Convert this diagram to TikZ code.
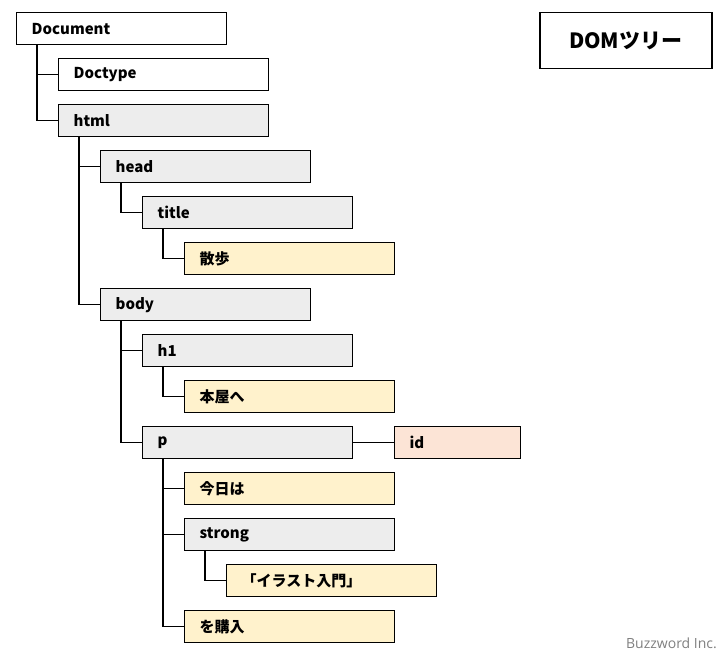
\documentclass[tikz,border=0pt]{standalone}
\usepackage{fontspec}
\setmainfont{Noto Sans CJK JP}
\newfontfamily\credfont{Open Sans}
\definecolor{elgray}{HTML}{EDEDED}
\definecolor{txtyel}{HTML}{FFF2CC}
\definecolor{attrpk}{HTML}{FCE4D6}
\definecolor{credgray}{HTML}{7F7F7F}
\begin{document}
\begin{tikzpicture}[x=1pt,y=1pt,
  treebox/.style={draw=black,line width=1.3pt,anchor=north west,minimum width=210pt,minimum height=32pt,
    text width=180pt,inner xsep=15pt,inner ysep=0pt,align=left,font=\fontsize{15}{18}\selectfont\bfseries},
  elem/.style={treebox,fill=elgray},
  docel/.style={treebox,fill=white},
  txt/.style={treebox,fill=txtyel},
  attr/.style={treebox,fill=attrpk,minimum width=126pt,text width=96pt},
  conn/.style={line width=1.3pt}]
\useasboundingbox (0,0) rectangle (728,-660);
\node[docel] (document) at (16,-12) {Document};
\node[docel] (doctype) at (58,-58) {Doctype};
\node[elem] (html) at (58,-104) {html};
\node[elem] (head) at (100,-150) {head};
\node[elem] (title) at (142,-196) {title};
\node[txt] (sanpo) at (184,-242) {散歩};
\node[elem] (body) at (100,-288) {body};
\node[elem] (h1) at (142,-334) {h1};
\node[txt] (honya) at (184,-380) {本屋へ};
\node[elem] (p) at (142,-426) {p};
\node[attr] (id) at (394,-426) {id};
\node[txt] (kyou) at (184,-472) {今日は};
\node[elem] (strong) at (184,-518) {strong};
\node[txt] (illust) at (226,-564) {「イラスト入門」};
\node[txt] (kounyu) at (184,-610) {を購入};
\draw[conn] ([xshift=21pt]document.south west) |- (doctype.west);
\draw[conn] ([xshift=21pt]document.south west) |- (html.west);
\draw[conn] ([xshift=21pt]html.south west) |- (head.west);
\draw[conn] ([xshift=21pt]html.south west) |- (body.west);
\draw[conn] ([xshift=21pt]head.south west) |- (title.west);
\draw[conn] ([xshift=21pt]title.south west) |- (sanpo.west);
\draw[conn] ([xshift=21pt]body.south west) |- (h1.west);
\draw[conn] ([xshift=21pt]body.south west) |- (p.west);
\draw[conn] ([xshift=21pt]h1.south west) |- (honya.west);
\draw[conn] ([xshift=21pt]p.south west) |- (kyou.west);
\draw[conn] ([xshift=21pt]p.south west) |- (strong.west);
\draw[conn] ([xshift=21pt]p.south west) |- (kounyu.west);
\draw[conn] ([xshift=21pt]strong.south west) |- (illust.west);
\draw[conn] (p.east) -- (id.west);
\node[draw=black,line width=1.5pt,anchor=north west,minimum width=172pt,minimum height=56pt,inner sep=0pt,
  font=\fontsize{21}{24}\selectfont\bfseries] (domtitle) at (539,-12) {DOMツリー};
\node[anchor=base east,text=credgray,inner sep=0pt,font=\credfont\fontsize{14}{16}\selectfont] (credit) at (717,-648) {Buzzword Inc.};
\end{tikzpicture}
\end{document}
